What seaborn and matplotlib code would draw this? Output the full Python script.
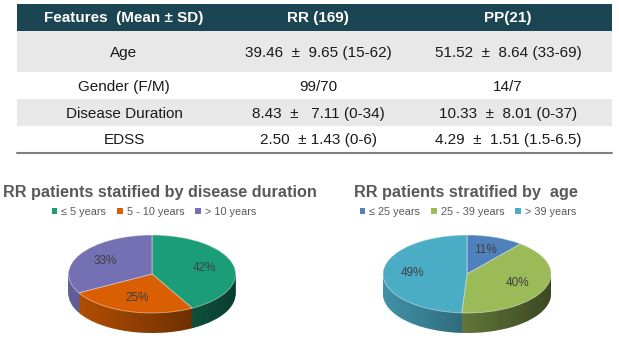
import numpy as np
import matplotlib
matplotlib.use("Agg")
import matplotlib.pyplot as plt
import matplotlib.colors as mcolors
from matplotlib.patches import Patch
from matplotlib.path import Path
import seaborn as sns

# table contents
header = ["Features  (Mean ± SD)", "RR (169)", "PP(21)"]
features = ["Age", "Gender (F/M)", "Disease Duration", "EDSS"]
rr_stats = ["39.46  ±  9.65 (15-62)", "99/70", "8.43  ±   7.11 (0-34)", "2.50  ± 1.43 (0-6)"]
pp_stats = ["51.52  ±  8.64 (33-69)", "14/7", "10.33  ±  8.01 (0-37)", "4.29  ±  1.51 (1.5-6.5)"]

# pie data
duration_labels = ["≤ 5 years", "5 - 10 years", "> 10 years"]
duration_pct = [42, 25, 33]
age_labels = ["≤ 25 years", "25 - 39 years", "> 39 years"]
age_pct = [11, 40, 49]

sns.set_theme(style="white")
plt.rcParams["font.family"] = ["Liberation Sans", "DejaVu Sans"]

W, H = 619, 347
fig = plt.figure(figsize=(W / 100, H / 100), dpi=100)
bg = fig.add_axes([0, 0, 1, 1])
bg.set_xlim(0, W)
bg.set_ylim(H, 0)
bg.axis("off")

# --- table ---
row_edges = [4, 31, 72, 99, 126, 152]
col_x = [124, 318, 508]
bg.fill_between([17, 612], row_edges[0], row_edges[1], color="#1b4552", lw=0)
for i in range(len(features)):
    top, bot = row_edges[i + 1], row_edges[i + 2]
    if i % 2 == 0:
        bg.fill_between([17, 612], top, bot, color="#e8e8e8", lw=0)
    yc = (top + bot) / 2 + 1
    for x, s in zip(col_x, [features[i], rr_stats[i], pp_stats[i]]):
        bg.text(x, yc, s, ha="center", va="center", fontsize=11, color="#1a1a1a")
for x, s in zip(col_x, header):
    bg.text(x, 18, s, ha="center", va="center", fontsize=11,
            fontweight="bold", color="white")
bg.plot([17, 612], [153, 153], color="#808080", lw=1.5)


def darker(c, f=0.85):
    r, g, b = mcolors.to_rgb(c)
    return (r * f, g * f, b * f)


def pie3d(cx, cy, a, b, depth, values, colors, labels, title, title_x, legend_x):
    pad = 1.2
    d = depth / b
    ax = fig.add_axes([(cx - pad * a) / W, (H - (cy + (pad + d) * b)) / H,
                       2 * pad * a / W, (2 * pad + d) * b / H])
    # side wall: stacked copies of the pie
    side = [darker(c) for c in colors]
    for k in range(depth, 0, -1):
        ax.pie(values, colors=side, startangle=90, counterclock=False,
               center=(0, -k / b), wedgeprops=dict(lw=0))
    # left-to-right shading on the side wall
    t = np.linspace(0, np.pi, 120)
    outline = np.vstack([np.column_stack([np.cos(t), np.sin(t)]),
                         np.column_stack([np.cos(t + np.pi), np.sin(t + np.pi) - d]),
                         [[1, 0]]])
    shade = np.zeros((1, 256, 4))
    shade[..., 3] = np.linspace(0.0, 0.55, 256)
    im = ax.imshow(shade, extent=(-1, 1, -1 - d, 1), aspect="auto",
                   interpolation="bilinear", zorder=1.5)
    im.set_clip_path(Path(outline, closed=True), ax.transData)
    # top face
    ax.pie(values, colors=colors, startangle=90, counterclock=False,
           autopct="%.0f%%", pctdistance=0.65,
           wedgeprops=dict(lw=0.6, edgecolor=(1, 1, 1, 0.5), zorder=2),
           textprops=dict(fontsize=8.5, color="#404040"))
    ax.set_aspect("auto")
    ax.set_xlim(-pad, pad)
    ax.set_ylim(-pad - d, pad)
    ax.axis("off")

    bg.text(title_x, 192, title, ha="center", va="center", fontsize=11.7,
            fontweight="bold", color="#595959")
    handles = [Patch(facecolor=c, edgecolor="none") for c in colors]
    fig.legend(handles, labels, loc="center", ncol=3,
               bbox_to_anchor=(legend_x / W, 1 - 212 / H), frameon=False,
               fontsize=7.8, labelcolor="#595959", handlelength=0.5,
               handleheight=0.5, handletextpad=0.4, columnspacing=1.0)


pie3d(152, 274, 83.5, 39, 20, duration_pct, sns.color_palette("Dark2", 3),
      duration_labels, "RR patients statified by disease duration", 160, 154)
pie3d(467, 274, 84, 39, 20, age_pct, ["#4f81bd", "#9bbb59", "#4bacc6"],
      age_labels, "RR patients stratified by  age", 466, 468)

fig.savefig("out.png", dpi=100)
